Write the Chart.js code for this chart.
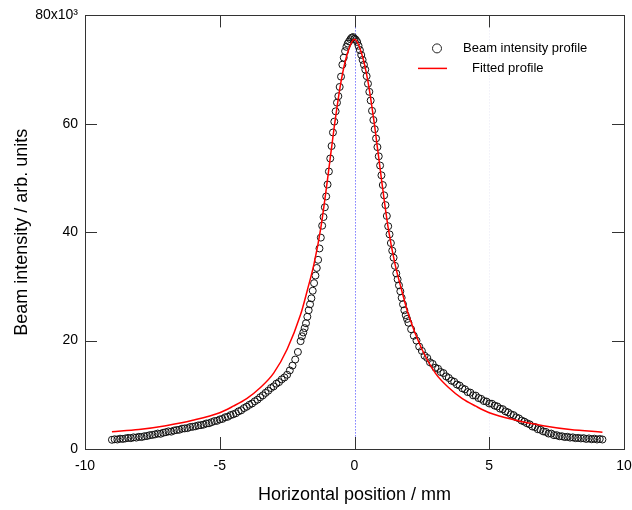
<!DOCTYPE html>
<html>
<head>
<meta charset="utf-8">
<script src="https://cdn.jsdelivr.net/npm/chart.js@4/dist/chart.umd.min.js"></script>
<style>
  html, body { margin: 0; padding: 0; background: #fff; }
  #wrap { width: 632px; height: 510px; }
</style>
</head>
<body>
<div id="wrap"><canvas id="chart" width="632" height="510"></canvas></div>
<script>
// measured beam profile, x in mm, intensity in units of 10^3
const positions = [
  -9.0, -8.9, -8.8, -8.7, -8.6, -8.5, -8.4, -8.3, -8.2, -8.1,
  -8.0, -7.9, -7.8, -7.7, -7.6, -7.5, -7.4, -7.3, -7.2, -7.1,
  -7.0, -6.9, -6.8, -6.7, -6.6, -6.5, -6.4, -6.3, -6.2, -6.1,
  -6.0, -5.9, -5.8, -5.7, -5.6, -5.5, -5.4, -5.3, -5.2, -5.1,
  -5.0, -4.9, -4.8, -4.7, -4.6, -4.5, -4.4, -4.3, -4.2, -4.1,
  -4.0, -3.9, -3.8, -3.7, -3.6, -3.5, -3.4, -3.3, -3.2, -3.1,
  -3.0, -2.9, -2.8, -2.7, -2.6, -2.5, -2.4, -2.3, -2.2, -2.1,
  -2.0, -1.95, -1.9, -1.85, -1.8, -1.75, -1.7, -1.65, -1.6, -1.55,
  -1.5, -1.45, -1.4, -1.35, -1.3, -1.25, -1.2, -1.15, -1.1, -1.05,
  -1.0, -0.95, -0.9, -0.85, -0.8, -0.75, -0.7, -0.65, -0.6, -0.55,
  -0.5, -0.45, -0.4, -0.35, -0.3, -0.25, -0.2, -0.15, -0.1, -0.05,
  0.0,
  0.05, 0.1, 0.15, 0.2, 0.25, 0.3, 0.35, 0.4, 0.45, 0.5,
  0.55, 0.6, 0.65, 0.7, 0.75, 0.8, 0.85, 0.9, 0.95, 1.0,
  1.05, 1.1, 1.15, 1.2, 1.25, 1.3, 1.35, 1.4, 1.45, 1.5,
  1.55, 1.6, 1.65, 1.7, 1.75, 1.8, 1.85, 1.9, 1.95, 2.0,
  2.1, 2.2, 2.3, 2.4, 2.5, 2.6, 2.7, 2.8, 2.9, 3.0,
  3.1, 3.2, 3.3, 3.4, 3.5, 3.6, 3.7, 3.8, 3.9, 4.0,
  4.1, 4.2, 4.3, 4.4, 4.5, 4.6, 4.7, 4.8, 4.9, 5.0,
  5.1, 5.2, 5.3, 5.4, 5.5, 5.6, 5.7, 5.8, 5.9, 6.0,
  6.1, 6.2, 6.3, 6.4, 6.5, 6.6, 6.7, 6.8, 6.9, 7.0,
  7.1, 7.2, 7.3, 7.4, 7.5, 7.6, 7.7, 7.8, 7.9, 8.0,
  8.1, 8.2, 8.3, 8.4, 8.5, 8.6, 8.7, 8.8, 8.9, 9.0,
  9.1, 9.2
];
const intensity = [
  1.7, 1.8, 1.75, 1.9, 1.85, 1.95, 2.05, 2.0, 2.15, 2.1,
  2.25, 2.2, 2.35, 2.4, 2.55, 2.6, 2.7, 2.85, 2.8, 3.0,
  3.1, 3.25, 3.2, 3.4, 3.5, 3.55, 3.75, 3.8, 3.85, 4.05,
  4.1, 4.2, 4.35, 4.4, 4.5, 4.7, 4.75, 4.95, 5.15, 5.2,
  5.45, 5.55, 5.85, 5.95, 6.25, 6.4, 6.6, 6.95, 7.15, 7.55,
  7.8, 8.15, 8.4, 8.8, 9.1, 9.55, 9.9, 10.35, 10.75, 11.25,
  11.55, 12.05, 12.35, 12.85, 13.2, 13.7, 14.5, 15.4, 16.5, 17.9,
  19.9, 20.8, 21.5, 22.3, 23.2, 24.4, 25.6, 26.7, 27.8, 29.2,
  30.6, 32.0, 33.4, 34.9, 37.0, 39.0, 41.2, 42.8, 44.6, 46.6,
  48.8, 51.2, 53.6, 55.9, 58.4, 60.4, 62.3, 63.9, 65.1, 66.8,
  68.7, 70.9, 72.2, 73.4, 74.2, 74.8, 75.2, 75.6, 75.9, 76.0,
  75.7,
  75.5, 75.1, 74.4, 73.6, 72.7, 71.8, 70.9, 70.0, 68.8, 67.4,
  65.9, 64.3, 62.4, 60.7, 59.0, 57.3, 55.7, 54.0, 52.3, 50.5,
  48.7, 46.8, 45.0, 43.0, 41.1, 39.6, 38.0, 36.6, 35.3, 33.8,
  32.4, 31.3, 30.2, 29.1, 27.9, 26.7, 25.6, 24.7, 24.0, 23.3,
  22.1, 20.9, 20.0, 18.9, 18.1, 17.2, 16.8, 16.0, 15.7, 15.0,
  14.8, 14.2, 14.0, 13.4, 13.1, 12.6, 12.4, 11.9, 11.7, 11.2,
  11.0, 10.5, 10.4, 9.9, 9.85, 9.4, 9.25, 8.85, 8.75, 8.4,
  8.35, 8.0, 7.85, 7.45, 7.35, 6.95, 6.75, 6.4, 6.25, 5.85,
  5.65, 5.25, 5.05, 4.75, 4.55, 4.15, 4.05, 3.65, 3.55, 3.25,
  3.15, 2.85, 2.85, 2.55, 2.55, 2.35, 2.35, 2.2, 2.25, 2.1,
  2.15, 2.0, 2.05, 1.95, 2.0, 1.85, 1.95, 1.8, 1.9, 1.75,
  1.85, 1.75
];

// fitted curve
const fitPositions = [-9.0, -8.0, -7.0, -6.0, -5.0, -4.5, -4.0, -3.5, -3.0, -2.5, -2.0, -1.75, -1.5, -1.25, -1.0, -0.75, -0.5, -0.25, 0,
  0.25, 0.5, 0.75, 1.0, 1.25, 1.5, 1.75, 2.0, 2.5, 3.0, 3.5, 4.0, 4.5, 5.0, 6.0, 7.0, 8.0, 9.2];
const fitValues = [3.2, 3.6, 4.3, 5.3, 6.7, 7.9, 9.3, 11.3, 14.0, 18.4, 24.8, 29.3, 34.2, 40.8, 49.8, 59.5, 67.8, 73.2, 75.6,
  73.2, 67.8, 59.5, 49.8, 40.8, 34.2, 29.3, 24.8, 18.4, 14.0, 11.3, 9.3, 7.9, 6.7, 5.3, 4.3, 3.6, 3.1];

const xTicks = [-10, -5, 0, 5, 10];
const yTicks = [0, 20, 40, 60, 80];

const FONT = "'Liberation Sans', Arial, sans-serif";

const frame = {
  id: "frame",
  beforeDatasetsDraw(chart) {
    const { ctx, chartArea: a, scales: { x, y } } = chart;
    ctx.save();
    // centre marker line
    ctx.strokeStyle = "#3b3bff";
    ctx.lineWidth = 1;
    ctx.setLineDash([1, 2]);
    const x0 = Math.round(x.getPixelForValue(0)) + 0.5;
    ctx.beginPath();
    ctx.moveTo(x0, a.top);
    ctx.lineTo(x0, a.bottom);
    ctx.stroke();
    ctx.strokeStyle = "rgba(190,190,225,0.35)";
    const x5 = Math.round(x.getPixelForValue(5)) + 0.5;
    ctx.beginPath();
    ctx.moveTo(x5, a.top);
    ctx.lineTo(x5, a.bottom);
    ctx.stroke();
    ctx.restore();
  },
  afterDraw(chart) {
    const { ctx, chartArea: a, scales: { x, y } } = chart;
    ctx.save();
    ctx.strokeStyle = "#333";
    ctx.lineWidth = 1;
    ctx.strokeRect(Math.round(a.left) + 0.5, Math.round(a.top) + 0.5,
      Math.round(a.right - a.left), Math.round(a.bottom - a.top));
    const tl = 12;
    ctx.beginPath();
    xTicks.slice(1, -1).forEach((v) => {
      const px = Math.round(x.getPixelForValue(v)) + 0.5;
      ctx.moveTo(px, a.bottom);
      ctx.lineTo(px, a.bottom - tl);
      ctx.moveTo(px, a.top);
      ctx.lineTo(px, a.top + tl);
    });
    yTicks.slice(1, -1).forEach((v) => {
      const py = Math.round(y.getPixelForValue(v)) + 0.5;
      ctx.moveTo(a.left, py);
      ctx.lineTo(a.left + tl, py);
      ctx.moveTo(a.right, py);
      ctx.lineTo(a.right - tl, py);
    });
    ctx.stroke();

    // legend
    ctx.font = "13px " + FONT;
    ctx.fillStyle = "#000";
    ctx.textBaseline = "middle";
    ctx.beginPath();
    ctx.arc(a.right - 187, a.top + 33, 4.5, 0, Math.PI * 2);
    ctx.strokeStyle = "#222";
    ctx.stroke();
    ctx.fillText("Beam intensity profile", a.right - 161, a.top + 33);
    ctx.strokeStyle = "#ff0000";
    ctx.lineWidth = 1.5;
    ctx.beginPath();
    ctx.moveTo(a.right - 206, a.top + 53);
    ctx.lineTo(a.right - 177, a.top + 53);
    ctx.stroke();
    ctx.fillText("Fitted profile", a.right - 152, a.top + 53);
    ctx.restore();
  },
};

new Chart(document.getElementById("chart"), {
  type: "scatter",
  data: {
    datasets: [
      {
        label: "Fitted profile",
        data: fitPositions.map((v, i) => ({ x: v, y: fitValues[i] })),
        showLine: true,
        borderColor: "#ff0000",
        borderWidth: 1.5,
        pointRadius: 0,
        cubicInterpolationMode: "monotone",
        order: 0,
      },
      {
        label: "Beam intensity profile",
        data: positions.map((v, i) => ({ x: v, y: intensity[i] })),
        showLine: false,
        pointStyle: "circle",
        pointRadius: 3.5,
        borderColor: "#111",
        borderWidth: 1,
        backgroundColor: "rgba(0,0,0,0)",
        order: 1,
      },
    ],
  },
  options: {
    responsive: false,
    animation: false,
    layout: { padding: { left: 0, right: 0, top: 15, bottom: 0 } },
    plugins: { legend: { display: false }, tooltip: { enabled: false } },
    scales: {
      x: {
        type: "linear",
        min: -10,
        max: 10,
        afterFit: (s) => {
          s.height = 61;
          s.paddingLeft = 0;
          s.paddingRight = 8;
        },
        afterBuildTicks: (s) => { s.ticks = xTicks.map((v) => ({ value: v })); },
        grid: { display: false, drawTicks: false },
        border: { display: false },
        ticks: { color: "#000", padding: 9, font: { family: FONT, size: 14 }, maxRotation: 0 },
        title: {
          display: true,
          text: "Horizontal position / mm",
          color: "#000",
          font: { family: FONT, size: 18 },
          padding: { top: 0, bottom: 4 },
        },
      },
      y: {
        type: "linear",
        min: 0,
        max: 80,
        afterFit: (s) => { s.width = 85; },
        afterBuildTicks: (s) => { s.ticks = yTicks.map((v) => ({ value: v })); },
        grid: { display: false, drawTicks: false },
        border: { display: false },
        ticks: {
          color: "#000",
          padding: 7,
          font: { family: FONT, size: 14 },
          callback: (v) => (v === 80 ? "80x10\u00b3" : String(v)),
        },
        title: {
          display: true,
          text: "Beam intensity / arb. units",
          color: "#000",
          font: { family: FONT, size: 18 },
          padding: { top: 11, bottom: 0 },
        },
      },
    },
  },
  plugins: [frame],
});
</script>
</body>
</html>
